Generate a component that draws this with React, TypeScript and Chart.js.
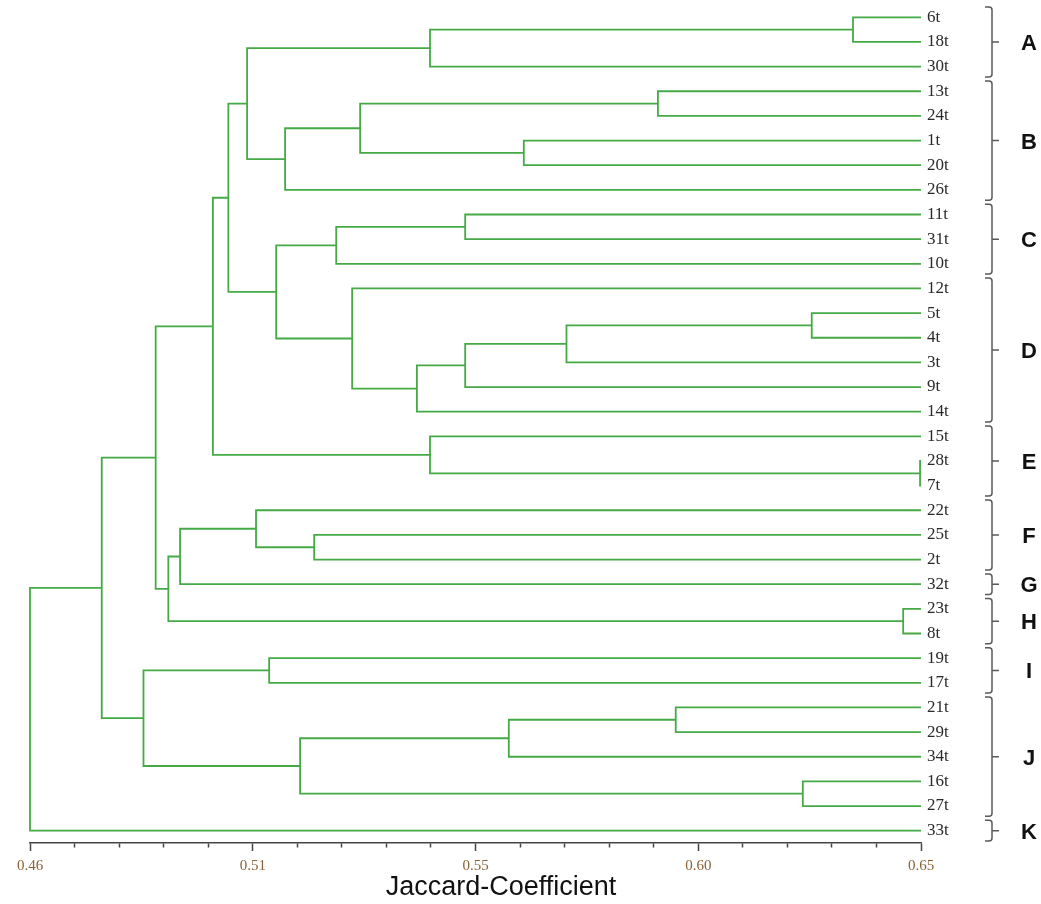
import React, { useEffect, useRef } from 'react';
import { Chart, registerables } from 'chart.js';

Chart.register(...registerables);

// Leaves, top to bottom
const leafLabels = [
  '6t', '18t', '30t', '13t', '24t', '1t', '20t', '26t', '11t', '31t', '10t',
  '12t', '5t', '4t', '3t', '9t', '14t', '15t', '28t', '7t', '22t', '25t', '2t',
  '32t', '23t', '8t', '19t', '17t', '21t', '29t', '34t', '16t', '27t', '33t',
];

// Merges: "#k" refers to the cluster formed by merge k
const mergeLeft = [
  '6t', '#0', '13t', '1t', '#2', '#4', '#1', '11t', '#7', '5t', '#9', '#10', '#11', '12t',
  '#8', '#6', '28t', '15t', '#15', '25t', '22t', '#20', '23t', '#21', '#18', '19t',
  '21t', '#26', '16t', '#27', '#25', '#24', '#31',
];
const mergeRight = [
  '18t', '30t', '24t', '20t', '#3', '26t', '#5', '31t', '10t', '4t', '3t', '9t', '14t', '#12',
  '#13', '#14', '7t', '#16', '#17', '2t', '#19', '32t', '8t', '#22', '#23', '17t',
  '29t', '34t', '27t', '#28', '#29', '#30', '33t',
];
const mergeHeight = [
  0.6355, 0.5453, 0.5939, 0.5653, 0.5304, 0.5144, 0.5063, 0.5528, 0.5253, 0.6267, 0.5744,
  0.5528, 0.5425, 0.5287, 0.5125, 0.5023, 0.6498, 0.5453, 0.4990, 0.5206, 0.5082, 0.4920,
  0.6462, 0.4895, 0.4868, 0.5110, 0.5977, 0.5621, 0.6248, 0.5176, 0.4842, 0.4753, 0.46,
];
const leafLevel = 0.65;

// Axis ticks
const xMin = 0.46;
const xMax = 0.65;
const xMajorTicks = [0.46, 0.5075, 0.555, 0.6025, 0.65];
const xMajorLabels = ['0.46', '0.51', '0.55', '0.60', '0.65'];
const xMinorPerInterval = 4;

// Groups on the right
const groupLetters = ['A', 'B', 'C', 'D', 'E', 'F', 'G', 'H', 'I', 'J', 'K'];
const groupFirst = ['6t', '13t', '11t', '12t', '15t', '22t', '32t', '23t', '19t', '21t', '33t'];
const groupLast = ['30t', '26t', '10t', '14t', '7t', '2t', '32t', '8t', '17t', '27t', '33t'];

const axisTitle = 'Jaccard-Coefficient';

const LINE_COLOR = '#45aa45';

function buildTicks(): number[] {
  const out: number[] = [];
  for (let i = 0; i < xMajorTicks.length - 1; i++) {
    const a = xMajorTicks[i];
    const b = xMajorTicks[i + 1];
    for (let k = 0; k <= xMinorPerInterval; k++) {
      out.push(a + ((b - a) * k) / (xMinorPerInterval + 1));
    }
  }
  out.push(xMajorTicks[xMajorTicks.length - 1]);
  return out;
}

function majorIndex(v: number): number {
  return xMajorTicks.findIndex((m) => Math.abs(m - v) < 1e-6);
}

function buildDatasets() {
  const clusterY: number[] = [];
  const resolve = (ref: string) => {
    if (ref.startsWith('#')) {
      const k = parseInt(ref.slice(1), 10);
      return { y: clusterY[k], h: mergeHeight[k] };
    }
    return { y: leafLabels.indexOf(ref), h: leafLevel };
  };
  const sets: any[] = [];
  for (let k = 0; k < mergeHeight.length; k++) {
    const a = resolve(mergeLeft[k]);
    const b = resolve(mergeRight[k]);
    const h = mergeHeight[k];
    clusterY[k] = (a.y + b.y) / 2;
    sets.push({
      data: [
        { x: a.h, y: a.y },
        { x: h, y: a.y },
        { x: h, y: b.y },
        { x: b.h, y: b.y },
      ],
      showLine: true,
      borderColor: LINE_COLOR,
      backgroundColor: LINE_COLOR,
      borderWidth: 1.8,
      pointRadius: 0,
      pointHoverRadius: 0,
      tension: 0,
      fill: false,
      clip: false,
      borderJoinStyle: 'miter',
      borderCapStyle: 'butt',
    });
  }
  return sets;
}

const bracketPlugin = {
  id: 'groupBrackets',
  afterDraw(chart: any) {
    const ys = chart.scales.y;
    const ctx = chart.ctx as CanvasRenderingContext2D;
    const right = chart.chartArea.right;
    const bx = right + 71;
    ctx.save();
    ctx.strokeStyle = '#5a5a5a';
    ctx.lineWidth = 1.5;
    ctx.fillStyle = '#111';
    ctx.font = 'bold 22px "Liberation Sans", Arial, sans-serif';
    ctx.textAlign = 'center';
    ctx.textBaseline = 'alphabetic';
    groupLetters.forEach((letter, i) => {
      const s = leafLabels.indexOf(groupFirst[i]);
      const e = leafLabels.indexOf(groupLast[i]);
      const top = ys.getPixelForValue(s - 0.5) + 2;
      const bot = ys.getPixelForValue(e + 0.5) - 2;
      const mid = ys.getPixelForValue((s + e) / 2);
      ctx.beginPath();
      ctx.moveTo(bx - 7, top);
      ctx.lineTo(bx - 3, top);
      ctx.quadraticCurveTo(bx, top, bx, top + 3);
      ctx.lineTo(bx, bot - 3);
      ctx.quadraticCurveTo(bx, bot, bx - 3, bot);
      ctx.lineTo(bx - 7, bot);
      ctx.moveTo(bx, mid);
      ctx.lineTo(bx + 7, mid);
      ctx.stroke();
      ctx.fillText(letter, right + 108, mid + 8);
    });
    ctx.restore();
  },
};

export default function App() {
  const ref = useRef<HTMLCanvasElement | null>(null);
  useEffect(() => {
    document.body.style.margin = '0';
    if (!ref.current) return;
    const xTicks = buildTicks();
    const chart = new Chart(ref.current, {
      type: 'scatter',
      data: { datasets: buildDatasets() },
      plugins: [bracketPlugin],
      options: {
        responsive: false,
        animation: false,
        events: [],
        layout: { padding: { left: 30, right: 69, top: 5, bottom: 0 } },
        plugins: {
          legend: { display: false },
          tooltip: { enabled: false },
          title: {
            display: true,
            position: 'bottom',
            text: axisTitle,
            color: '#111',
            padding: 0,
            font: { family: '"Liberation Sans", Arial, sans-serif', size: 27, weight: 'normal', lineHeight: 1.2 },
          },
        },
        scales: {
          x: {
            type: 'linear',
            position: 'bottom',
            min: xMin,
            max: xMax,
            afterBuildTicks: (s: any) => {
              s.ticks = xTicks.map((v) => ({ value: v }));
            },
            afterFit: (s: any) => {
              s.height = 28.6;
            },
            ticks: {
              autoSkip: false,
              maxRotation: 0,
              padding: 6,
              color: '#8a6238',
              font: { family: '"Liberation Serif", "Times New Roman", serif', size: 15 },
              callback: (v: any) => {
                const i = majorIndex(Number(v));
                return i >= 0 ? xMajorLabels[i] : '';
              },
            },
            grid: {
              display: true,
              drawOnChartArea: false,
              drawTicks: true,
              tickLength: 8,
              tickColor: '#444',
              tickWidth: 1.5,
              tickBorderDash: (c: any) => (c.tick && majorIndex(c.tick.value) >= 0 ? [] : [4, 50]),
            },
            border: { display: true, color: '#444', width: 1.5 },
          },
          y: {
            type: 'linear',
            position: 'right',
            reverse: true,
            min: -0.5,
            max: leafLabels.length - 0.5,
            afterBuildTicks: (s: any) => {
              s.ticks = leafLabels.map((_, i) => ({ value: i }));
            },
            afterFit: (s: any) => {
              s.width = 51;
              s.paddingTop = 0;
              s.paddingBottom = 0;
            },
            ticks: {
              autoSkip: false,
              padding: 6,
              color: '#2a2a2a',
              font: { family: '"Liberation Serif", "Times New Roman", serif', size: 17 },
              callback: (v: any) => leafLabels[Number(v)] ?? '',
            },
            grid: { display: false, drawTicks: false },
            border: { display: false },
          },
        },
      } as any,
    });
    return () => chart.destroy();
  }, []);
  return (
    <div style={{ width: 1041, height: 904, background: '#fff' }}>
      <canvas ref={ref} width={1041} height={904} style={{ display: 'block' }} />
    </div>
  );
}
